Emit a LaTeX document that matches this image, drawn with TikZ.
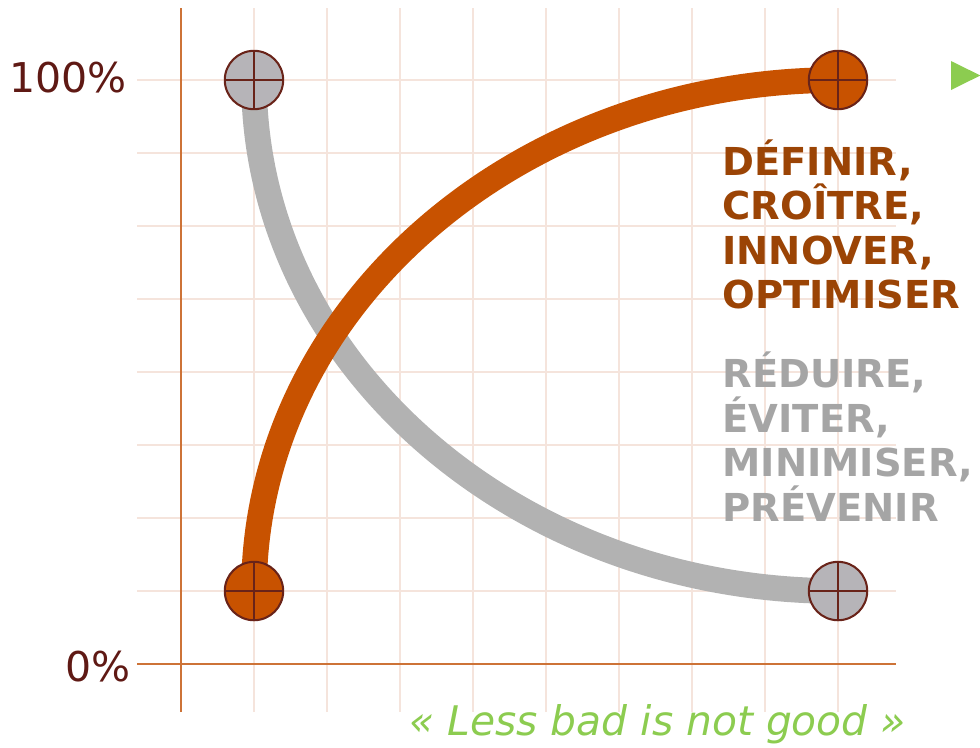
\documentclass[tikz,border=0pt]{standalone}
\usepackage{fontspec}
\setmainfont{DejaVu Sans}
\newfontfamily\wordsfont{DejaVu Sans}

\definecolor{gridpink}{RGB}{245,228,220}
\definecolor{axisbrown}{RGB}{205,115,55}
\definecolor{labelbrown}{RGB}{95,25,20}
\definecolor{groworange}{RGB}{200,82,0}
\definecolor{lessgray}{RGB}{178,178,178}
\definecolor{markgray}{RGB}{182,180,184}
\definecolor{markedge}{RGB}{105,35,25}
\definecolor{wordorange}{RGB}{155,68,5}
\definecolor{wordgray}{RGB}{165,165,165}
\definecolor{quotegreen}{RGB}{140,204,80}

\pgfdeclarelayer{back}
\pgfdeclarelayer{mid}
\pgfsetlayers{back,mid,main}

\tikzset{
    gridline/.style={gridpink, line width=0.8pt},
    axisline/.style={axisbrown, line width=1pt},
    pct/.style={labelbrown, inner sep=0pt, font=\fontsize{16pt}{19pt}\selectfont},
    curveline/.style={line width=10pt},
    marker/.style={circle, draw=markedge, line width=0.8pt, minimum size=0.8cm, inner sep=0pt,
        path picture={\draw[markedge, line width=1.1pt]
            (path picture bounding box.north) -- (path picture bounding box.south)
            (path picture bounding box.west) -- (path picture bounding box.east);}},
    words/.style={anchor=north west, inner sep=0pt, align=left,
        font=\wordsfont\bfseries\fontsize{15pt}{17.35pt}\selectfont},
}

\begin{document}
\begin{tikzpicture}
    \useasboundingbox (-2.479,-1.137) rectangle (10.945,9.096);

    % grid and axes
    \begin{pgfonlayer}{back}
        \foreach \x in {1,...,9}
            \draw[gridline] (\x,-0.66) -- (\x,8.99);
        \foreach \y in {1,...,8}
            \draw[gridline] (-0.6,\y) -- (9.8,\y);
        \draw[axisline] (0,-0.66) -- (0,8.99);
        \draw[axisline] (-0.6,0) -- (9.8,0);
    \end{pgfonlayer}

    \node[pct, anchor=east] (full) at (-0.74,8.04) {100\%};
    \node[pct, anchor=east] (zero) at (-0.685,-0.03) {0\%};

    % end points
    \node[marker, fill=markgray] (lessstart) at (1,8) {};
    \node[marker, fill=markgray] (lessend) at (9,1) {};
    \node[marker, fill=groworange] (growstart) at (1,1) {};
    \node[marker, fill=groworange] (growend) at (9,8) {};

    % quarter ellipses
    \begin{pgfonlayer}{mid}
        \draw[curveline, lessgray] (lessstart.center) .. controls +(0,-3.866) and +(-4.418,0) .. (lessend.center);
        \draw[curveline, groworange] (growstart.center) .. controls +(0,3.866) and +(-4.418,0) .. (growend.center);
    \end{pgfonlayer}

    \node[words, wordorange] (gainwords) at (7.41,7.19) {DÉFINIR,\\CROÎTRE,\\INNOVER,\\OPTIMISER};
    \node[words, wordgray] (lesswords) at (7.41,4.28) {RÉDUIRE,\\ÉVITER,\\MINIMISER,\\PRÉVENIR};

    \fill[quotegreen] (10.548,8.26) -- (10.548,7.863) -- (10.95,8.062) -- cycle;

    \node[quotegreen, anchor=base, inner sep=0pt, font=\itshape\fontsize{15.9pt}{19pt}\selectfont]
        (motto) at (6.53,-0.973) {« Less bad is not good »};
\end{tikzpicture}
\end{document}
